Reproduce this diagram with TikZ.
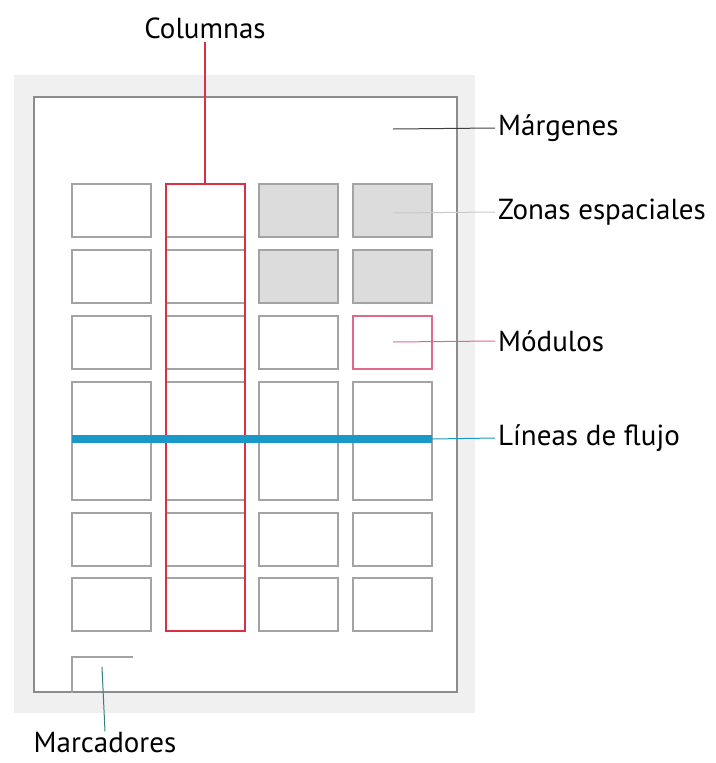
\documentclass[tikz,border=0pt]{standalone}
\usepackage{fontspec}
\setmainfont{PT Sans}

\definecolor{fondo}{HTML}{F0F0F0}
\definecolor{borde}{HTML}{8C8C8C}
\definecolor{celdagris}{HTML}{DCDCDC}
\definecolor{rojo}{HTML}{DC2E44}
\definecolor{rosa}{HTML}{E0688A}
\definecolor{azul}{HTML}{1A98C8}

\tikzset{
  celda/.style={draw=borde!80,line width=1.2pt},
  zona/.style={celda,fill=celdagris},
  etiqueta/.style={font=\fontsize{29}{34}\selectfont,inner sep=3pt},
  lider/.style={line width=1pt}
}

\begin{document}
\begin{tikzpicture}[x=1pt,y=-1pt,text centered]

  \useasboundingbox (0,0) rectangle (715,763);

  % page and margins
  \fill[fondo] (14,75) rectangle (475,713);
  \fill[white] (34,97) rectangle (457,692);
  \draw[borde,line width=1.5pt] (34,97) rectangle (457,692);

  % modules
  \foreach \x in {72,166,259,353} {
    \foreach \y in {184,250,316,513,578} {
      \draw[celda] (\x,\y) rectangle ++(79,53);
    }
    \draw[celda] (\x,382) rectangle ++(79,118);
  }

  % spatial zones
  \draw[zona] (259,184) rectangle ++(79,53);
  \draw[zona] (353,184) rectangle ++(79,53);
  \draw[zona] (259,250) rectangle ++(79,53);
  \draw[zona] (353,250) rectangle ++(79,53);

  % single module
  \draw[rosa,line width=1.2pt] (353,316) rectangle ++(79,53);

  % column
  \draw[rojo,line width=1.6pt] (166,184) rectangle (245,631);

  % flow line
  \draw[azul,line width=8.5pt] (72,439) -- (432,439);

  % markers
  \draw[borde!80,line width=1.2pt] (72,693) -- (72,657) -- (133,657);

  % labels
  \node (columnas) at (205,28) [etiqueta] {Columnas};
  \node (margenes) at (495,128) [etiqueta,anchor=west] {Márgenes};
  \node (zonas) at (495,212) [etiqueta,anchor=west] {Zonas espaciales};
  \node (modulos) at (495,341) [etiqueta,anchor=west] {Módulos};
  \node (lineas) at (495,438) [etiqueta,anchor=west] {Líneas de flujo};
  \node (marcadores) at (105,743) [etiqueta,inner sep=1pt] {Marcadores};

  \coordinate (colTop) at (205,184);
  \coordinate (margP) at (393,129);
  \coordinate (zonaP) at (393,213);
  \coordinate (modP) at (393,342);
  \coordinate (flujoP) at (432,439);
  \coordinate (marcP) at (102,667);

  \draw[rojo,line width=1.3pt] (columnas.south) -- (colTop);
  \draw[black!75,lider] (margP) -- (margenes.west);
  \draw[celdagris!80!gray,lider] (zonaP) -- (zonas.west);
  \draw[rosa,lider] (modP) -- (modulos.west);
  \draw[azul,lider] (flujoP) -- (lineas.west);
  \draw[teal!60!gray,lider] (marcP) -- (marcadores.north);

\end{tikzpicture}
\end{document}
